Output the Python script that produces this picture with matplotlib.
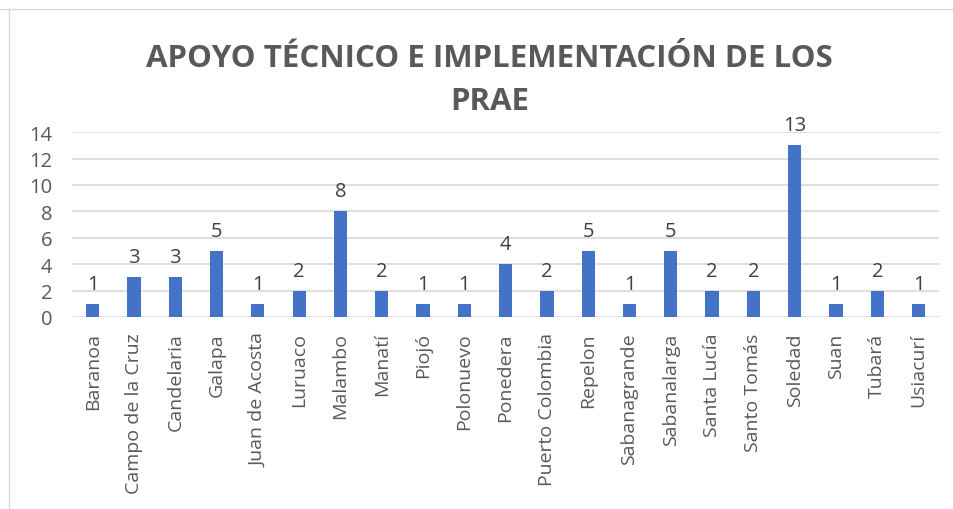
import matplotlib.pyplot as plt
from matplotlib.lines import Line2D

municipios = ["Baranoa", "Campo de la Cruz", "Candelaria", "Galapa", "Juan de Acosta",
              "Luruaco", "Malambo", "Manatí", "Piojó", "Polonuevo", "Ponedera",
              "Puerto Colombia", "Repelon", "Sabanagrande", "Sabanalarga",
              "Santa Lucía", "Santo Tomás", "Soledad", "Suan", "Tubará", "Usiacurí"]
valores = [1, 3, 3, 5, 1, 2, 8, 2, 1, 1, 4, 2, 5, 1, 5, 2, 2, 13, 1, 2, 1]
yticks = [0, 2, 4, 6, 8, 10, 12, 14]

plt.rcParams['font.family'] = ['Open Sans', 'DejaVu Sans']

fig = plt.figure(figsize=(9.54, 5.10), dpi=100)
ax = fig.add_axes([0.0755, 0.3765, 0.909, 0.3625])

x = list(range(len(municipios)))
ax.bar(x, valores, width=0.32, color='#4472C4', zorder=3)
for xi, v in zip(x, valores):
    ax.text(xi, v + 0.75, str(v), ha='center', va='bottom', fontsize=14.5, color='#404040')

ax.set_xlim(-0.5, len(municipios) - 0.5)
ax.set_ylim(0, 14)
ax.set_yticks(yticks)
ax.set_xticks(x)
ax.set_xticklabels(municipios, rotation=90, fontsize=14, color='#595959')
ax.tick_params(axis='y', labelsize=14.5, labelcolor='#595959', length=0, pad=14)
ax.tick_params(axis='x', length=0, pad=11)
ax.grid(axis='y', color='#D9D9D9', linewidth=1.2, zorder=0)
for s in ax.spines.values():
    s.set_visible(False)

fig.text(0.513, 0.885, "APOYO TÉCNICO E IMPLEMENTACIÓN DE LOS", ha='center', va='center',
         fontsize=22.5, fontweight='bold', color='#595959')
fig.text(0.513, 0.80, "PRAE", ha='center', va='center',
         fontsize=22.5, fontweight='bold', color='#595959')

fig.add_artist(Line2D([0, 1], [0.98, 0.98], color='#D9D9D9', linewidth=1, transform=fig.transFigure))
fig.add_artist(Line2D([0.009, 0.009], [0, 0.98], color='#D9D9D9', linewidth=1, transform=fig.transFigure))

fig.savefig('out.png', dpi=100)
